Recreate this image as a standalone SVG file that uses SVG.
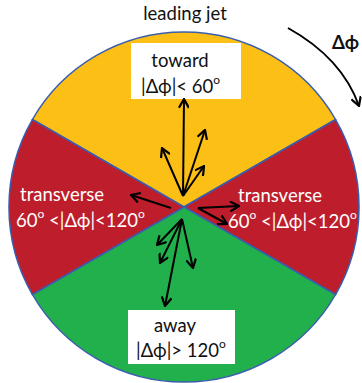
<svg xmlns="http://www.w3.org/2000/svg" width="362" height="383" viewBox="0 0 362 383">
<defs>
<marker id="ah" viewBox="0 0 10 10" refX="9" refY="5" markerWidth="11" markerHeight="11" markerUnits="userSpaceOnUse" orient="auto">
<path d="M1,0.5 L9,5 L1,9.5" fill="none" stroke="#000" stroke-width="2"/>
</marker>
</defs>
<style>
.sec{stroke:#3A5DAE;stroke-width:1.5}
.t{font-family:Lato,"Open Sans",sans-serif;font-size:18.5px}
.w{fill:#fff}
.k{fill:#111}
.sup{font-size:12px}
.a{stroke:#000;stroke-width:2;fill:none;marker-end:url(#ah)}
</style>
<rect width="362" height="383" fill="#fff"/>
<g id="toward-sector"><path class="sec" fill="#FBBF16" d="M184,207 L32.4,119.5 A175,175 0 0 1 335.6,119.5 Z"/></g>
<g id="transverse-right-sector"><path class="sec" fill="#BE1E2B" d="M184,207 L335.6,119.5 A175,175 0 0 1 335.6,294.5 Z"/></g>
<g id="away-sector"><path class="sec" fill="#22B04C" d="M184,207 L335.6,294.5 A175,175 0 0 1 32.4,294.5 Z"/></g>
<g id="transverse-left-sector"><path class="sec" fill="#BE1E2B" d="M184,207 L32.4,294.5 A175,175 0 0 1 32.4,119.5 Z"/></g>

<g id="leading-jet"><text class="t k" x="185" y="20" text-anchor="middle" font-size="19.5">leading jet</text></g>

<g id="toward-label">
<rect x="131" y="43" width="110" height="56" fill="#fff"/>
<text class="t k" x="180" y="67" text-anchor="middle">toward</text>
<text class="t k" x="141" y="93">|Δϕ|&lt; 60<tspan class="sup" dy="-9">o</tspan></text>
</g>

<g id="away-label">
<rect x="128" y="310" width="107" height="54" fill="#fff"/>
<text class="t k" x="175" y="332" text-anchor="middle">away</text>
<text class="t k" x="136" y="357">|Δϕ|&gt; 120<tspan class="sup" dy="-9">o</tspan></text>
</g>

<g id="transverse-left-label">
<text class="t w" x="20" y="201">transverse</text>
<text class="t w" x="16" y="227">60<tspan class="sup" dy="-9">o</tspan><tspan dy="9"> &lt;|Δϕ|&lt;120</tspan><tspan class="sup" dy="-9">o</tspan></text>
</g>

<g id="transverse-right-label">
<text class="t w" x="238" y="202">transverse</text>
<text class="t w" x="228" y="228">60<tspan class="sup" dy="-9">o</tspan><tspan dy="9"> &lt;|Δϕ|&lt;120</tspan><tspan class="sup" dy="-9">o</tspan></text>
</g>

<g id="dphi-label">
<text class="t k" x="332" y="49" font-weight="bold" font-size="20">Δϕ</text>
</g>

<g id="connectors">
<path class="a" d="M288,28 Q342,58 359,106"/>
<line class="a" x1="183" y1="196" x2="184" y2="99"/>
<line class="a" x1="183" y1="196" x2="162" y2="148"/>
<line class="a" x1="183" y1="196" x2="205" y2="130"/>
<line class="a" x1="183" y1="196" x2="204" y2="166"/>
<line class="a" x1="171" y1="208" x2="131" y2="195"/>
<line class="a" x1="198" y1="208" x2="239" y2="206"/>
<line class="a" x1="198" y1="208" x2="227" y2="224"/>
<line class="a" x1="182" y1="219" x2="157" y2="245"/>
<line class="a" x1="182" y1="219" x2="160" y2="263"/>
<line class="a" x1="182" y1="219" x2="193" y2="268"/>
<line class="a" x1="182" y1="219" x2="165" y2="306"/>
</g>
</svg>
